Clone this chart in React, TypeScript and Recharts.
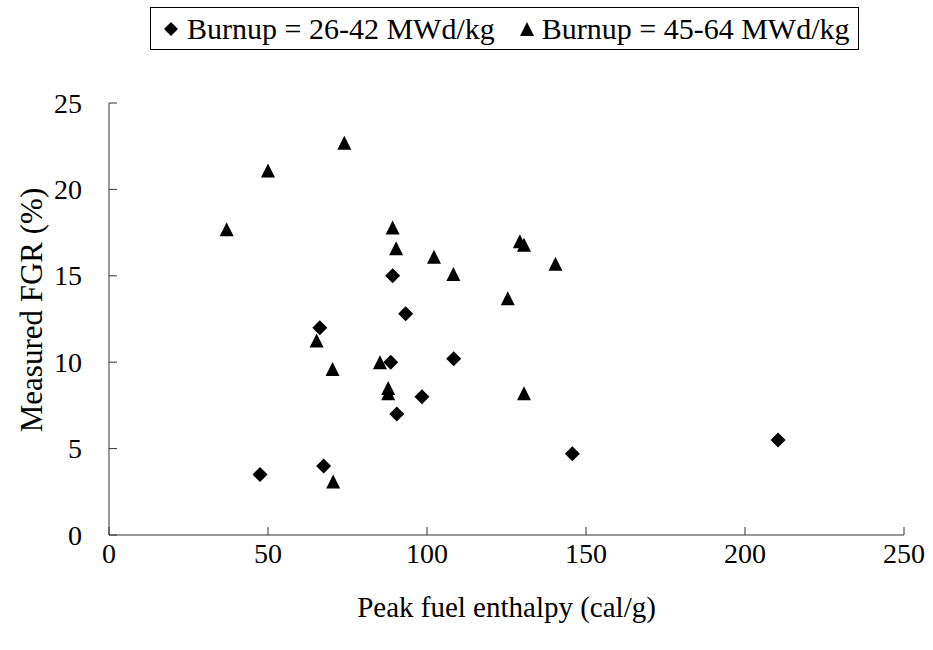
import React from "react";
import { ScatterChart, Scatter, XAxis, YAxis, Label } from "recharts";

const xTicks = [0, 50, 100, 150, 200, 250];
const yTicks = [0, 5, 10, 15, 20, 25];

const lowBurnupLabel = "Burnup = 26-42 MWd/kg";
const highBurnupLabel = "Burnup = 45-64 MWd/kg";

const lowBurnupX = [47.5, 66.3, 67.5, 88.6, 89.2, 90.5, 93.3, 98.4, 108.4, 145.7, 210.4];
const lowBurnupY = [3.5, 12.0, 4.0, 10.0, 15.0, 7.0, 12.8, 8.0, 10.2, 4.7, 5.5];

const highBurnupX = [37.0, 50.0, 74.0, 89.2, 90.3, 102.2, 108.3, 129.2, 130.5, 140.4, 125.4, 130.5, 65.3, 70.3, 85.2, 87.8, 87.8, 70.5];
const highBurnupY = [17.7, 21.1, 22.7, 17.8, 16.6, 16.1, 15.1, 17.0, 16.8, 15.7, 13.7, 8.2, 11.25, 9.6, 10.0, 8.5, 8.2, 3.1];

const lowData = lowBurnupX.map((x, i) => ({ x, y: lowBurnupY[i] }));
const highData = highBurnupX.map((x, i) => ({ x, y: highBurnupY[i] }));

const FONT = '"Liberation Serif", "Times New Roman", serif';
const AXIS = "#333";

const Diamond = (props: any) => {
  const { cx, cy } = props;
  const r = 7.5;
  return <polygon points={`${cx},${cy - r} ${cx + r},${cy} ${cx},${cy + r} ${cx - r},${cy}`} fill="#000" />;
};

const Triangle = (props: any) => {
  const { cx, cy } = props;
  const h = 14;
  const w = 14;
  return <polygon points={`${cx},${cy - h / 2} ${cx + w / 2},${cy + h / 2} ${cx - w / 2},${cy + h / 2}`} fill="#000" />;
};

const XTick = (props: any) => {
  const { x, y, payload } = props;
  return (
    <g>
      <line x1={x} x2={x} y1={y} y2={y - 8} stroke={AXIS} strokeWidth={1} />
      <text x={x} y={y + 18} textAnchor="middle" dominantBaseline="central" fontFamily={FONT} fontSize={28} fill="#000">
        {payload.value}
      </text>
    </g>
  );
};

const YTick = (props: any) => {
  const { x, y, payload } = props;
  return (
    <g>
      <line x1={x} x2={x + 8} y1={y} y2={y} stroke={AXIS} strokeWidth={1} />
      <text x={x - 27} y={y} textAnchor="end" dominantBaseline="central" fontFamily={FONT} fontSize={28} fill="#000">
        {payload.value}
      </text>
    </g>
  );
};

const XTitle = (props: any) => {
  const { viewBox } = props;
  const cx = viewBox.x + viewBox.width / 2;
  return (
    <text x={cx} y={viewBox.y + 72} textAnchor="middle" dominantBaseline="central" fontFamily={FONT} fontSize={29} fill="#000">
      Peak fuel enthalpy (cal/g)
    </text>
  );
};

const YTitle = (props: any) => {
  const { viewBox } = props;
  const cx = viewBox.x + 31;
  const cy = viewBox.y + viewBox.height / 2 - 9;
  return (
    <text x={cx} y={cy} transform={`rotate(-90 ${cx} ${cy})`} textAnchor="middle" dominantBaseline="central" fontFamily={FONT} fontSize={31} fill="#000">
      Measured FGR (%)
    </text>
  );
};

const LegendBox = () => (
  <div
    style={{
      position: "absolute",
      left: 150,
      top: 7,
      width: 709,
      height: 43,
      border: "1px solid #000",
      boxSizing: "border-box",
      display: "flex",
      alignItems: "center",
      justifyContent: "flex-start",
      paddingLeft: 12,
      fontFamily: FONT,
      fontSize: 30,
      color: "#000",
      whiteSpace: "nowrap",
      background: "#fff",
    }}
  >
    <svg width={16} height={16} style={{ marginRight: 8 }}>
      <polygon points="8,1 15,8 8,15 1,8" fill="#000" />
    </svg>
    <span>{lowBurnupLabel}</span>
    <svg width={16} height={16} style={{ marginLeft: 24, marginRight: 7 }}>
      <polygon points="8,1 15,15 1,15" fill="#000" />
    </svg>
    <span>{highBurnupLabel}</span>
  </div>
);

export default function App() {
  return (
    <div style={{ position: "absolute", left: 0, top: 0, width: 933, height: 650, background: "#fff" }}>
      <ScatterChart width={933} height={650} margin={{ top: 103, right: 29, bottom: 0, left: 0 }}>
        <XAxis
          type="number"
          dataKey="x"
          domain={[0, 250]}
          ticks={xTicks}
          interval={0}
          height={115}
          tickSize={0}
          tickMargin={0}
          tickLine={false}
          axisLine={{ stroke: AXIS, strokeWidth: 1 }}
          tick={<XTick />}
        >
          <Label content={<XTitle />} />
        </XAxis>
        <YAxis
          type="number"
          dataKey="y"
          domain={[0, 25]}
          ticks={yTicks}
          interval={0}
          width={109}
          tickSize={0}
          tickMargin={0}
          tickLine={false}
          axisLine={{ stroke: AXIS, strokeWidth: 1 }}
          tick={<YTick />}
        >
          <Label content={<YTitle />} />
        </YAxis>
        <Scatter data={lowData} shape={<Diamond />} isAnimationActive={false} />
        <Scatter data={highData} shape={<Triangle />} isAnimationActive={false} />
      </ScatterChart>
      <LegendBox />
    </div>
  );
}
